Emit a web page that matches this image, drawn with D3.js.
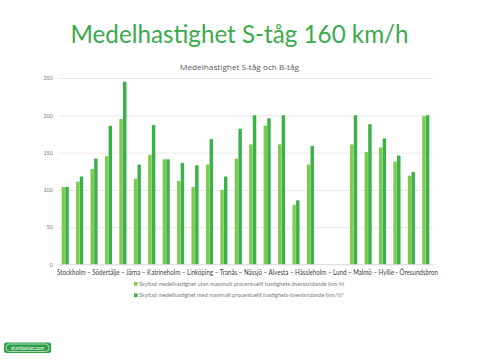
<!DOCTYPE html>
<html><head><meta charset="utf-8">
<script src="https://cdn.jsdelivr.net/npm/d3@7"></script>
<style>body{margin:0;background:#fff;}svg{display:block;font-family:Lato,"Open Sans",sans-serif;}</style>
</head><body><svg id="c" width="480" height="360"></svg>
<script>
const title = "Medelhastighet S-tåg 160 km/h";
const chartTitle = "Medelhastighet S-tåg och B-tåg";
const categories = d3.range(1, 27).map(String);
const axisLabel = "Stockholm – Södertälje – Järna – Katrineholm – Linköping – Tranås – Nässjö – Alvesta – Hässleholm – Lund – Malmö – Hyllie - Öresundsbron";
const seriesNames = [
  "Skyltad medelhastighet utan maximalt procentuellt hastighets-överskridande (km/h)",
  "Skyltad medelhastighet med maximalt procentuellt hastighets-överskridande (km/h)*"
];
const utan = [104,111,128,145,195,115,147,141,112,104,134,100,142,161,186,161,80,134,null,null,161,151,157,138,119,199];
const med  = [104,118,142,186,245,134,187,141,136,133,168,118,182,200,196,200,86,159,null,null,200,188,169,146,124,200];
const yTicks = [0,50,100,150,200,250];
const colors = ["#7ccb4f","#3bb14a"];

const svg = d3.select("#c");
const x0 = d3.scaleBand().domain(categories).range([58,433]).paddingInner(0).paddingOuter(0);
const x1 = d3.scaleBand().domain([0,1]).range([0,x0.bandwidth()]).paddingInner(0.06).paddingOuter(1.0);
const y = d3.scaleLinear().domain([0,250]).range([264.5,78]);

svg.append("text").attr("x",239.5).attr("y",43).attr("text-anchor","middle")
  .attr("font-size",24.5).attr("fill","#3aaa4c").attr("font-family","Lato, sans-serif")
  .attr("textLength",338).attr("lengthAdjust","spacingAndGlyphs").text(title);
svg.append("text").attr("x",239.5).attr("y",70).attr("text-anchor","middle")
  .attr("font-size",8).attr("fill","#595959").attr("font-family","'Open Sans', sans-serif")
  .attr("textLength",119).attr("lengthAdjust","spacingAndGlyphs").text(chartTitle);

const yAxis = d3.axisLeft(y).tickValues(yTicks).tickSize(-(433-58)).tickPadding(5);
const g = svg.append("g").attr("transform","translate(58,0)").call(yAxis);
g.select(".domain").remove();
g.selectAll(".tick line").attr("stroke","#e0e0e0").attr("stroke-width",0.7);
g.selectAll(".tick text").attr("font-size",5.5).attr("fill","#7a7a7a").attr("font-family","Lato, sans-serif");

const series = [utan, med];
series.forEach((vals, si) => {
  svg.append("g").selectAll("rect").data(categories.map((c,i)=>({c, v: vals[i]})).filter(d=>d.v!=null))
    .join("rect")
    .attr("x", d => x0(d.c) + x1(si))
    .attr("width", x1.bandwidth())
    .attr("y", d => y(d.v))
    .attr("height", d => y(0) - y(d.v))
    .attr("fill", colors[si]);
});

svg.append("line").attr("x1",58).attr("x2",433).attr("y1",y(0)).attr("y2",y(0)).attr("stroke","#d9d9d9").attr("stroke-width",0.7);

svg.append("text").attr("x",57).attr("y",275).attr("font-size",6.6).attr("fill","#404040")
  .attr("textLength",381).attr("lengthAdjust","spacingAndGlyphs").text(axisLabel);

seriesNames.forEach((n,i) => {
  const ly = 284 + i*11.5;
  svg.append("rect").attr("x",134).attr("y",ly-2).attr("width",3.6).attr("height",3.6).attr("fill",colors[i]);
  svg.append("text").attr("x",139).attr("y",ly+1.8).attr("font-size",5).attr("fill","#7a7a7a")
    .attr("textLength",205).attr("lengthAdjust","spacingAndGlyphs").text(n);
});

// logo
const lg = svg.append("g");
lg.append("rect").attr("x",4).attr("y",342.5).attr("width",47).attr("height",10.5).attr("rx",2).attr("fill","#2f9e48");
lg.append("rect").attr("x",6).attr("y",344).attr("width",43).attr("height",7.5).attr("rx",3.5).attr("fill","none").attr("stroke","#fff").attr("stroke-width",0.6);
lg.append("text").attr("x",27.5).attr("y",349.8).attr("text-anchor","middle").attr("font-size",5).attr("fill","#fff")
  .attr("textLength",33).attr("lengthAdjust","spacingAndGlyphs").text("stambanan.com");
</script></body></html>
